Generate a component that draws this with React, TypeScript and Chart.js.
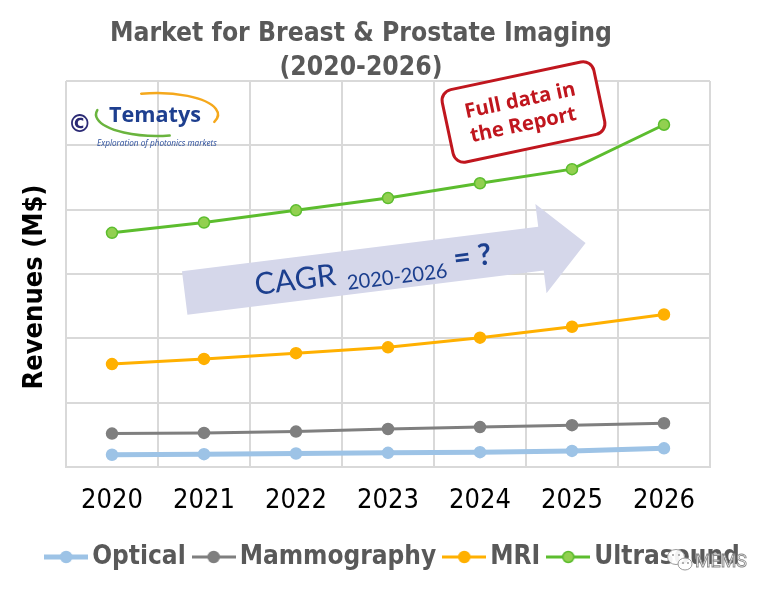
import React, { useEffect, useRef } from "react";
import { Chart, registerables } from "chart.js";

Chart.register(...registerables);

// ---------- data ----------
const years = ["2020", "2021", "2022", "2023", "2024", "2025", "2026"];
const optical = [19, 20, 21, 22, 23, 25, 29];
const mammography = [52, 53, 55, 59, 62, 65, 68];
const mri = [160, 168, 177, 186, 201, 218, 237];
const ultrasound = [364, 380, 399, 418, 441, 463, 532];
const seriesNames = ["Optical", "Mammography", "MRI", "Ultrasound"];
const yMin = 0;
const yMax = 600;
const yStep = 100;

// ---------- texts ----------
const titleLines = ["Market for Breast & Prostate Imaging", "(2020-2026)"];
const yTitle = "Revenues (M$)";
const stampLines = ["Full data in", "the Report"];
const cagrMain = "CAGR";
const cagrSub = "2020-2026";
const cagrTail = "= ?";
const logoName = "Tematys";
const logoTagline = "Exploration of photonics markets";
const copyrightSign = "©";
const watermark = "MEMS";

// ---------- styles ----------
const lineColors = ["#9dc3e6", "#7f7f7f", "#ffb000", "#5cbd2e"];
const pointFills = ["#9dc3e6", "#7f7f7f", "#ffb000", "#92d050"];
const lineWidths = [5, 3, 3, 3];
const COND = "'DejaVu Sans Condensed', 'DejaVu Sans', sans-serif";
const D = Math.PI / 180;

function fitFont(ctx: CanvasRenderingContext2D, text: string, weight: string, family: string, target: number, italic = false) {
  const pre = italic ? "italic " : "";
  ctx.font = `${pre}${weight} 100px ${family}`;
  const w = ctx.measureText(text).width;
  const size = (100 * target) / w;
  ctx.font = `${pre}${weight} ${size}px ${family}`;
  return size;
}

function makeIcon(i: number) {
  const c = document.createElement("canvas");
  c.width = 44;
  c.height = 16;
  const g = c.getContext("2d")!;
  g.strokeStyle = lineColors[i];
  g.lineWidth = lineWidths[i];
  g.beginPath();
  g.moveTo(0, 8);
  g.lineTo(44, 8);
  g.stroke();
  g.beginPath();
  g.arc(22, 8, 5.5, 0, Math.PI * 2);
  g.fillStyle = pointFills[i];
  g.fill();
  g.lineWidth = 1.5;
  g.strokeStyle = lineColors[i];
  g.stroke();
  return c;
}

const decorPlugin = {
  id: "decor",
  afterDraw(chart: any) {
    const ctx: CanvasRenderingContext2D = chart.ctx;
    ctx.save();

    // Title
    ctx.fillStyle = "#595959";
    ctx.textAlign = "center";
    ctx.textBaseline = "alphabetic";
    fitFont(ctx, titleLines[0], "bold", COND, 502);
    ctx.fillText(titleLines[0], 361, 41);
    ctx.fillText(titleLines[1], 361, 75);

    // Y axis title
    ctx.save();
    ctx.translate(35, 287);
    ctx.rotate(-Math.PI / 2);
    ctx.fillStyle = "#000000";
    ctx.textBaseline = "middle";
    ctx.textAlign = "center";
    fitFont(ctx, yTitle, "bold", COND, 205);
    ctx.fillText(yTitle, 0, 0);
    ctx.restore();

    // Logo
    ctx.save();
    ctx.lineCap = "round";
    ctx.lineWidth = 2.5;
    ctx.strokeStyle = "#f5a81c";
    ctx.beginPath();
    ctx.ellipse(157, 114.5, 61, 21.5, 0, -105 * D, 20 * D);
    ctx.stroke();
    ctx.strokeStyle = "#6ab43e";
    ctx.beginPath();
    ctx.ellipse(157, 114.5, 61, 21.5, 0, 78 * D, 192 * D);
    ctx.stroke();
    ctx.fillStyle = "#1e3f8f";
    ctx.textAlign = "left";
    ctx.textBaseline = "alphabetic";
    fitFont(ctx, logoName, "bold", "'Open Sans', sans-serif", 92);
    ctx.fillText(logoName, 109, 121.5);
    ctx.fillStyle = "#2a4d9b";
    fitFont(ctx, logoTagline, "normal", "'Open Sans', sans-serif", 120, true);
    ctx.fillText(logoTagline, 97, 145.5);
    ctx.fillStyle = "#2b2a75";
    ctx.font = "bold 100px 'DejaVu Sans', sans-serif";
    let m = ctx.measureText(copyrightSign);
    const h100 = m.actualBoundingBoxAscent + m.actualBoundingBoxDescent;
    const sz = (100 * 17.5) / h100;
    ctx.font = `bold ${sz}px 'DejaVu Sans', sans-serif`;
    m = ctx.measureText(copyrightSign);
    const gx = 82.7 - (m.actualBoundingBoxRight - m.actualBoundingBoxLeft) / 2 + m.actualBoundingBoxLeft;
    const gy = 123.3 + (m.actualBoundingBoxAscent - m.actualBoundingBoxDescent) / 2;
    ctx.fillText(copyrightSign, gx, gy);
    ctx.restore();

    // Stamp
    ctx.save();
    ctx.translate(523.5, 112);
    ctx.rotate(-12 * D);
    ctx.beginPath();
    (ctx as any).roundRect(-77.5, -37, 155, 74, 11);
    ctx.fillStyle = "#ffffff";
    ctx.fill();
    ctx.lineWidth = 3;
    ctx.strokeStyle = "#c0161e";
    ctx.stroke();
    ctx.fillStyle = "#c0161e";
    ctx.textAlign = "center";
    ctx.textBaseline = "middle";
    fitFont(ctx, stampLines[1], "bold", "'Open Sans', sans-serif", 108);
    ctx.fillText(stampLines[0], -1, -11.5);
    ctx.fillText(stampLines[1], -3, 13);
    ctx.restore();

    // CAGR arrow
    ctx.save();
    ctx.translate(184.7, 293);
    ctx.rotate(Math.atan2(-44.7, 358.6));
    ctx.fillStyle = "#d5d7ea";
    ctx.beginPath();
    ctx.moveTo(0, -22);
    ctx.lineTo(359, -22);
    ctx.lineTo(359, -45);
    ctx.lineTo(404, 0);
    ctx.lineTo(359, 45);
    ctx.lineTo(359, 22);
    ctx.lineTo(0, 22);
    ctx.closePath();
    ctx.fill();
    ctx.fillStyle = "#1c3f8e";
    ctx.textAlign = "left";
    ctx.textBaseline = "alphabetic";
    fitFont(ctx, cagrMain, "normal", "Lato, sans-serif", 81.5);
    ctx.fillText(cagrMain, 70.5, 10.8);
    fitFont(ctx, cagrSub, "normal", "Lato, sans-serif", 101);
    ctx.fillText(cagrSub, 162.4, 17);
    fitFont(ctx, cagrTail, "bold", "Lato, sans-serif", 38);
    ctx.fillText(cagrTail, 271, 9);
    ctx.restore();

    // Watermark
    ctx.save();
    ctx.lineWidth = 1;
    ctx.strokeStyle = "#9a9a9a";
    ctx.fillStyle = "rgba(255,255,255,0.92)";
    ctx.beginPath();
    ctx.ellipse(676, 557, 8.5, 7.5, 0, 0, Math.PI * 2);
    ctx.fill();
    ctx.stroke();
    ctx.beginPath();
    ctx.ellipse(685, 564, 7, 6, 0, 0, Math.PI * 2);
    ctx.fill();
    ctx.stroke();
    ctx.fillStyle = "#9a9a9a";
    [[673, 555], [679, 555], [683, 563], [688, 563]].forEach(([x, y]) => {
      ctx.beginPath();
      ctx.arc(x, y, 1, 0, Math.PI * 2);
      ctx.fill();
    });
    ctx.textAlign = "left";
    ctx.textBaseline = "alphabetic";
    fitFont(ctx, watermark, "normal", "Roboto, sans-serif", 52);
    ctx.fillStyle = "#ffffff";
    ctx.fillText(watermark, 695, 567);
    ctx.strokeStyle = "#8a8a8a";
    ctx.lineWidth = 0.9;
    ctx.strokeText(watermark, 695, 567);
    ctx.restore();

    ctx.restore();
  },
};

export default function App() {
  const ref = useRef<HTMLCanvasElement | null>(null);

  useEffect(() => {
    if (!ref.current) return;
    const icons = seriesNames.map((_, i) => makeIcon(i));
    const values = [optical, mammography, mri, ultrasound];
    const chart = new Chart(ref.current, {
      type: "line",
      data: {
        labels: years,
        datasets: values.map((data, i) => ({
          label: seriesNames[i],
          data,
          borderColor: lineColors[i],
          backgroundColor: pointFills[i],
          pointBackgroundColor: pointFills[i],
          pointBorderColor: lineColors[i],
          borderWidth: lineWidths[i],
          pointRadius: 5.5,
          pointBorderWidth: 1.5,
          tension: 0,
        })),
      },
      options: {
        responsive: false,
        animation: false,
        layout: { padding: { top: 81, left: 22, right: 0, bottom: 12 } },
        plugins: {
          title: { display: false },
          tooltip: { enabled: false },
          legend: {
            position: "bottom",
            labels: {
              usePointStyle: true,
              pointStyleWidth: 26,
              padding: 15,
              color: "#595959",
              font: { family: COND, size: 26, weight: "bold" },
              generateLabels: (c: any) => {
                const items = (Chart.defaults.plugins.legend.labels as any).generateLabels(c);
                items.forEach((it: any, i: number) => {
                  it.pointStyle = icons[i];
                });
                return items;
              },
            },
          },
        },
        scales: {
          x: {
            offset: true,
            grid: { offset: true, color: "#d9d9d9", lineWidth: 2, drawTicks: false },
            border: { color: "#d9d9d9", width: 2 },
            ticks: { color: "#000000", padding: 18, font: { family: COND, size: 27 } },
            afterFit: (s: any) => {
              s.height = 62;
            },
          },
          y: {
            position: "left",
            min: yMin,
            max: yMax,
            ticks: { stepSize: yStep, display: false },
            grid: { color: "#d9d9d9", lineWidth: 2, drawTicks: false },
            border: { display: false },
            afterFit: (s: any) => {
              s.width = 44;
            },
          },
          yRight: {
            position: "right",
            display: true,
            min: yMin,
            max: yMax,
            ticks: { display: false },
            grid: { display: false, drawTicks: false },
            border: { display: false },
            afterFit: (s: any) => {
              s.width = 61;
            },
          },
        },
      },
      plugins: [decorPlugin],
    });
    return () => chart.destroy();
  }, []);

  return (
    <div style={{ position: "absolute", left: 0, top: 0, width: 771, height: 592, background: "#ffffff" }}>
      <canvas ref={ref} width={771} height={592} style={{ display: "block" }} />
    </div>
  );
}
